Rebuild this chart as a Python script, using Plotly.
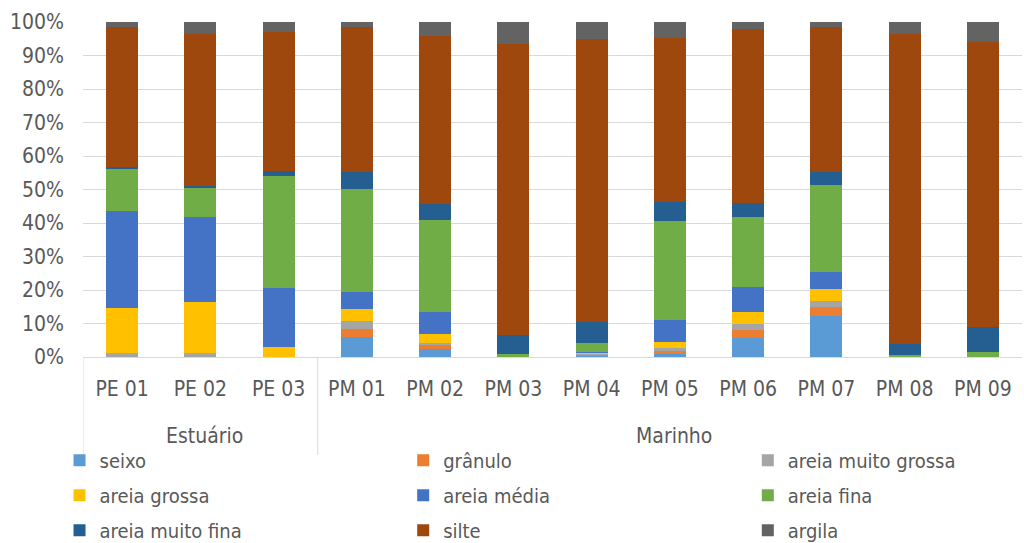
import plotly.graph_objects as go

# Sample stations and the environment each one belongs to
stations = ["PE 01", "PE 02", "PE 03", "PM 01", "PM 02", "PM 03",
            "PM 04", "PM 05", "PM 06", "PM 07", "PM 08", "PM 09"]
groups = ["Estuário", "Marinho"]
group_sizes = [3, 9]

# Grain-size fractions (% of sample) per station
seixo = [0, 0, 0, 5.9, 2.3, 0, 0.2, 0.9, 5.8, 12.3, 0, 0]
granulo = [0, 0, 0, 2.5, 1.3, 0, 0.6, 1.0, 2.3, 2.5, 0, 0]
areia_muito_grossa = [1.2, 1.1, 0, 2.3, 0.7, 0, 0.3, 0.7, 1.8, 2.0, 0, 0]
areia_grossa = [13.3, 15.4, 3.1, 3.5, 2.7, 0, 0.2, 2.0, 3.4, 3.4, 0, 0]
areia_media = [29.2, 25.2, 17.6, 5.3, 6.4, 0, 0.3, 6.4, 7.7, 5.1, 0, 0]
areia_fina = [12.5, 9.0, 33.3, 30.6, 27.6, 1.0, 2.7, 29.6, 20.7, 26.0, 0.5, 1.6]
areia_muito_fina = [0.4, 0.3, 1.5, 5.0, 4.7, 5.6, 6.1, 5.8, 4.3, 3.9, 3.4, 7.3]
silte = [41.8, 45.5, 41.4, 43.3, 50.1, 86.9, 84.5, 48.9, 51.9, 43.2, 92.6, 85.2]
argila = [1.6, 3.5, 3.1, 1.6, 4.2, 6.5, 5.1, 4.7, 2.1, 1.6, 3.5, 5.9]

# (label, values, colour, legend column)
series = [
    ("seixo", seixo, "#5B9BD5", "legend"),
    ("grânulo", granulo, "#ED7D31", "legend2"),
    ("areia muito grossa", areia_muito_grossa, "#A5A5A5", "legend3"),
    ("areia grossa", areia_grossa, "#FFC000", "legend"),
    ("areia média", areia_media, "#4472C4", "legend2"),
    ("areia fina", areia_fina, "#70AD47", "legend3"),
    ("areia muito fina", areia_muito_fina, "#255E91", "legend"),
    ("silte", silte, "#9E480E", "legend2"),
    ("argila", argila, "#636363", "legend3"),
]

FONT = "DejaVu Sans Condensed, Liberation Sans Narrow, sans-serif"
TEXT = "#595959"
LINE = "#D9D9D9"

fig = go.Figure()
for name, values, color, leg in series:
    fig.add_trace(go.Bar(
        x=stations,
        y=values,
        name=name,
        legend=leg,
        legendgroup=name,
        marker=dict(color=color, line=dict(width=0)),
    ))

# Second-level category labels and the dividers between groups
start = 0
for label, size in zip(groups, group_sizes):
    left = start - 0.5
    right = start + size - 0.5
    fig.add_annotation(
        x=(left + right) / 2 + 0.05, xref="x",
        y=-0.236, yref="paper",
        text=label, showarrow=False,
        xanchor="center", yanchor="middle",
        font=dict(family=FONT, size=21, color=TEXT),
    )
    fig.add_shape(
        type="line", xref="x", yref="paper",
        x0=left, x1=left, y0=0, y1=-0.293,
        line=dict(color=LINE, width=1),
    )
    start += size


def column_legend(x):
    return dict(
        orientation="v",
        x=x,
        xanchor="left",
        y=-0.250,
        yanchor="top",
        font=dict(family=FONT, size=20, color=TEXT),
        traceorder="grouped",
        tracegroupgap=6,
        itemwidth=30,
        bgcolor="rgba(0,0,0,0)",
    )


fig.update_layout(
    width=1024,
    height=543,
    barmode="stack",
    barnorm="percent",
    bargap=0.59,
    plot_bgcolor="white",
    paper_bgcolor="white",
    margin=dict(l=83, r=2, t=22, b=186, autoexpand=False),
    font=dict(family=FONT, size=21, color=TEXT),
    showlegend=True,
    legend=column_legend(-0.025),
    legend2=column_legend(0.341),
    legend3=column_legend(0.708),
    xaxis=dict(
        type="category",
        range=[-0.5, 11.5],
        automargin=False,
        showline=True,
        linecolor=LINE,
        linewidth=1,
        tickfont=dict(family=FONT, size=21, color=TEXT),
        ticks="",
        ticklabelstandoff=13,
    ),
    yaxis=dict(
        automargin=False,
        range=[0, 100],
        dtick=10,
        ticksuffix="%",
        showgrid=True,
        gridcolor=LINE,
        gridwidth=1,
        zeroline=False,
        showline=False,
        tickfont=dict(family=FONT, size=21, color=TEXT),
        ticklabelstandoff=18,
    ),
)

fig.write_html("out.html")
